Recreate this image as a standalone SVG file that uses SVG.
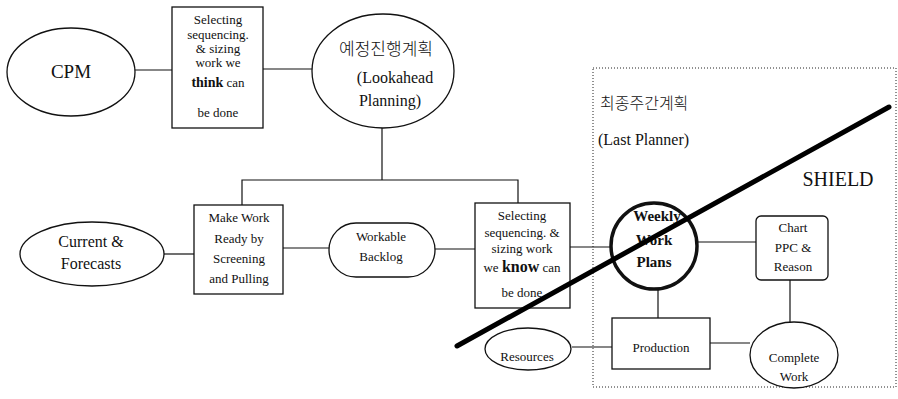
<svg xmlns="http://www.w3.org/2000/svg" width="898" height="399" viewBox="0 0 898 399">
<style>
text{font-family:"Liberation Serif","Noto Sans CJK KR",serif;fill:#111;text-anchor:middle}
.kr{font-family:"Noto Sans CJK KR","Liberation Serif",sans-serif;font-weight:300}
.s{font-size:13px}
.m{font-size:16px}
.shape{fill:#fff;stroke:#111;stroke-width:1.3}
.conn line,.conn polyline{stroke:#111;stroke-width:1.2;fill:none}
</style>
<rect width="898" height="399" fill="#fff"/>
<g id="last-planner-area">
<rect x="593" y="68" width="303" height="319" fill="none" stroke="#222" stroke-width="1" stroke-dasharray="1 2"/>
<text class="kr" x="600" y="109" style="font-size:16px;text-anchor:start">최종주간계획</text>
<text x="598" y="145" style="font-size:16px;text-anchor:start">(Last Planner)</text>
</g>
<g class="conn" id="connectors">
<line x1="135" y1="70" x2="172" y2="70"/>
<line x1="263" y1="69" x2="312" y2="69"/>
<line x1="382" y1="128" x2="382" y2="180"/>
<polyline points="242,205 242,180 518,180 518,203"/>
<line x1="164" y1="254" x2="194" y2="254"/>
<line x1="283" y1="248" x2="329" y2="248"/>
<line x1="435" y1="249" x2="475" y2="249"/>
<line x1="570" y1="247" x2="611" y2="247"/>
<line x1="697" y1="242" x2="756" y2="242"/>
<line x1="790" y1="280" x2="790" y2="323"/>
<line x1="658" y1="289" x2="658" y2="318"/>
<line x1="572" y1="347" x2="612" y2="347"/>
<line x1="710" y1="343" x2="750" y2="343"/>
</g>
<g id="cpm">
<ellipse class="shape" cx="71" cy="72" rx="64" ry="44"/>
<text x="71" y="78" style="font-size:19px">CPM</text>
</g>
<g id="select-think">
<rect class="shape" x="172" y="7" width="91" height="121"/>
<text class="s" x="218" y="24">Selecting</text>
<text class="s" x="218" y="39">sequencing.</text>
<text class="s" x="218" y="53">&amp; sizing</text>
<text class="s" x="218" y="67">work we</text>
<text class="s" x="218" y="87"><tspan font-weight="bold" style="font-size:14px">think</tspan> can</text>
<text class="s" x="218" y="117">be done</text>
</g>
<g id="lookahead">
<ellipse class="shape" cx="383" cy="71" rx="71" ry="57"/>
<text class="kr" x="386" y="55" style="font-size:17px">예정진행계획</text>
<text class="m" x="395" y="83">(Lookahead</text>
<text class="m" x="390" y="106">Planning)</text>
</g>
<g id="current">
<ellipse class="shape" cx="92" cy="254" rx="72" ry="32"/>
<text class="m" x="91" y="247">Current &amp;</text>
<text class="m" x="91" y="269">Forecasts</text>
</g>
<g id="make-ready">
<rect class="shape" x="194" y="205" width="89" height="89"/>
<text class="s" x="239" y="222">Make Work</text>
<text class="s" x="239" y="243">Ready by</text>
<text class="s" x="239" y="263">Screening</text>
<text class="s" x="239" y="283">and Pulling</text>
</g>
<g id="workable">
<rect class="shape" x="329" y="223" width="106" height="54" rx="27" ry="27"/>
<text class="s" x="381" y="241">Workable</text>
<text class="s" x="381" y="261">Backlog</text>
</g>
<g id="select-know">
<rect class="shape" x="475" y="203" width="95" height="105"/>
<text class="s" x="522" y="220">Selecting</text>
<text class="s" x="522" y="237">sequencing. &amp;</text>
<text class="s" x="522" y="253">sizing work</text>
<text class="s" x="522" y="272">we <tspan font-weight="bold" style="font-size:16px">know</tspan> can</text>
<text class="s" x="522" y="297">be done</text>
</g>
<g id="weekly">
<circle cx="654" cy="246" r="43" fill="#fff" stroke="#111" stroke-width="3.5"/>
<text x="657" y="221" font-weight="bold" style="font-size:15px">Weekly</text>
<text x="654" y="245" font-weight="bold" style="font-size:15px">Work</text>
<text x="654" y="267" font-weight="bold" style="font-size:15px">Plans</text>
</g>
<g id="chart">
<rect class="shape" x="756" y="216" width="72" height="64" rx="5" ry="5"/>
<text class="s" x="793" y="232">Chart</text>
<text class="s" x="793" y="252">PPC &amp;</text>
<text class="s" x="793" y="271">Reason</text>
</g>
<g id="resources">
<ellipse class="shape" cx="528" cy="349" rx="43" ry="21"/>
<text class="s" x="527" y="361">Resources</text>
</g>
<g id="production">
<rect class="shape" x="612" y="318" width="98" height="51"/>
<text class="s" x="661" y="352">Production</text>
</g>
<g id="complete">
<ellipse class="shape" cx="794" cy="355" rx="44" ry="33"/>
<text class="s" x="794" y="362">Complete</text>
<text class="s" x="794" y="381">Work</text>
</g>
<g id="shield">
<line x1="457" y1="346" x2="889" y2="107" stroke="#000" stroke-width="5" stroke-linecap="round"/>
<text x="838" y="186" style="font-size:20px">SHIELD</text>
</g>
</svg>
